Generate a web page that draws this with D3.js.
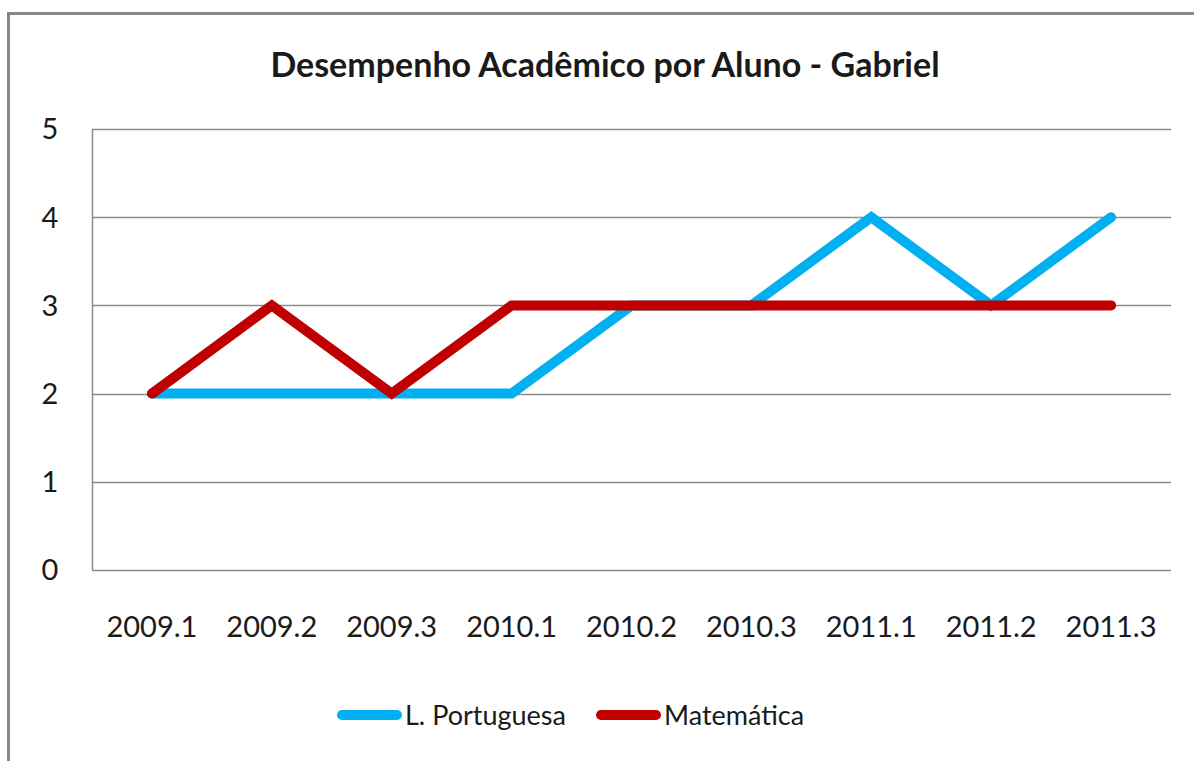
<!DOCTYPE html>
<html>
<head>
<meta charset="utf-8">
<script src="https://cdn.jsdelivr.net/npm/d3@7"></script>
<style>
  body { margin: 0; background: #fff; }
  text { font-family: Lato, "Open Sans", sans-serif; fill: #1a1a1a; }
</style>
</head>
<body>
<svg id="chart"></svg>
<script>
const periods = ["2009.1", "2009.2", "2009.3", "2010.1", "2010.2", "2010.3", "2011.1", "2011.2", "2011.3"];
const portugues = [2, 2, 2, 2, 3, 3, 4, 3, 4];
const matematica = [2, 3, 2, 3, 3, 3, 3, 3, 3];
const yTicks = [0, 1, 2, 3, 4, 5];
const seriesNames = ["L. Portuguesa", "Matemática"];
const seriesColors = ["#00b0f0", "#c00000"];

const W = 1194, H = 761;
const margin = { top: 129, right: 23, bottom: 191, left: 92 };
const width = W - margin.left - margin.right;
const height = H - margin.top - margin.bottom;

const svg = d3.select("#chart").attr("width", W).attr("height", H);

// outer frame, cut off on the right and bottom like the screenshot
svg.append("rect")
  .attr("x", 8.5).attr("y", 13.5)
  .attr("width", 1300).attr("height", 900)
  .attr("fill", "none")
  .attr("stroke", "#888")
  .attr("stroke-width", 3);

svg.append("text")
  .attr("x", 605)
  .attr("y", 77)
  .attr("text-anchor", "middle")
  .style("font-size", "34px")
  .style("font-weight", "bold")
  .text("Desempenho Acadêmico por Aluno - Gabriel");

const chart = svg.append("g")
  .attr("transform", `translate(${margin.left},${margin.top})`);

const x = d3.scaleBand().domain(periods).range([0, width]);
const y = d3.scaleLinear().domain([0, 5]).range([height, 0]);

// gridlines
chart.selectAll(".grid")
  .data(yTicks)
  .join("line")
  .attr("class", "grid")
  .attr("x1", 0).attr("x2", width)
  .attr("y1", d => Math.round(y(d)) + 0.5)
  .attr("y2", d => Math.round(y(d)) + 0.5)
  .attr("stroke", "#8c8c8c")
  .attr("stroke-width", 1.5);

chart.append("line")
  .attr("x1", 0.5).attr("x2", 0.5)
  .attr("y1", 0).attr("y2", height)
  .attr("stroke", "#8c8c8c")
  .attr("stroke-width", 1.5);

// y labels
chart.selectAll(".ylab")
  .data(yTicks)
  .join("text")
  .attr("class", "ylab")
  .attr("x", -42)
  .attr("y", d => y(d))
  .attr("dy", "0.36em")
  .attr("text-anchor", "middle")
  .style("font-size", "29px")
  .text(d => d);

// x labels
chart.selectAll(".xlab")
  .data(periods)
  .join("text")
  .attr("class", "xlab")
  .attr("x", d => x(d) + x.bandwidth() / 2)
  .attr("y", height + 67)
  .attr("text-anchor", "middle")
  .style("font-size", "29px")
  .text(d => d);

const line = d3.line()
  .x((d, i) => x(periods[i]) + x.bandwidth() / 2)
  .y(d => y(d));

[portugues, matematica].forEach((vals, i) => {
  chart.append("path")
    .datum(vals)
    .attr("d", line)
    .attr("fill", "none")
    .attr("stroke", seriesColors[i])
    .attr("stroke-width", 10)
    .attr("stroke-linejoin", "miter")
    .attr("stroke-linecap", "round");
});

// legend
const legendItems = [
  { name: seriesNames[0], color: seriesColors[0], x: 337 },
  { name: seriesNames[1], color: seriesColors[1], x: 596 }
];
const legend = svg.append("g").attr("transform", "translate(0,715)");
legendItems.forEach(d => {
  legend.append("line")
    .attr("x1", d.x + 5).attr("x2", d.x + 60)
    .attr("y1", 0).attr("y2", 0)
    .attr("stroke", d.color)
    .attr("stroke-width", 10)
    .attr("stroke-linecap", "round");
  legend.append("text")
    .attr("x", d.x + 68)
    .attr("y", 0)
    .attr("dy", "0.36em")
    .style("font-size", "27px")
    .text(d.name);
});
</script>
</body>
</html>
